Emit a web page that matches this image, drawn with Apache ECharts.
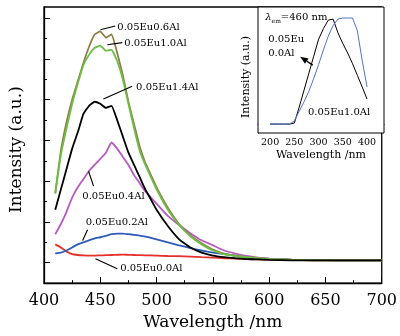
<!DOCTYPE html>
<html><head><meta charset="utf-8">
<script src="https://cdn.jsdelivr.net/npm/echarts@6/dist/echarts.min.js"></script>
<style>html,body{margin:0;padding:0;background:#fff}#c{width:400px;height:336px}</style>
</head><body><div id="c"></div>
<script>
// ---- main emission spectra, wavelength in nm ----
const wavelength = [410,415,420,425,430,435,440,445,450,455,460,465,470,475,480,485,490,495,500,510,520,530,540,550,560,570,580,590,600,620,640,660,680,700];
const eu00Al = [1.9,1.75,1.55,1.42,1.38,1.36,1.35,1.35,1.36,1.37,1.38,1.39,1.4,1.39,1.38,1.37,1.36,1.36,1.35,1.33,1.32,1.3,1.27,1.25,1.22,1.2,1.18,1.16,1.15,1.13,1.12,1.12,1.12,1.12];
const eu02Al = [1.46,1.5,1.6,1.75,1.9,2.0,2.1,2.2,2.25,2.32,2.4,2.43,2.43,2.4,2.37,2.33,2.28,2.22,2.15,2.0,1.85,1.72,1.6,1.5,1.42,1.35,1.28,1.23,1.2,1.15,1.13,1.12,1.12,1.12];
const eu04Al = [2.4,2.9,3.5,4.2,4.7,5.1,5.5,5.8,6.1,6.4,6.9,6.6,6.2,5.8,5.3,4.9,4.5,4.2,3.9,3.3,2.85,2.45,2.1,1.85,1.6,1.45,1.33,1.25,1.2,1.15,1.13,1.12,1.12,1.12];
const eu06Al = [4.4,6.5,7.9,9.0,9.9,10.8,11.6,12.2,12.35,12.05,12.2,11.3,10.2,8.9,7.8,6.7,5.9,5.3,4.7,3.7,2.9,2.35,1.95,1.65,1.45,1.35,1.28,1.22,1.18,1.14,1.12,1.12,1.12,1.12];
const eu10Al = [4.4,6.3,7.6,8.8,9.8,10.7,11.2,11.55,11.65,11.4,11.45,10.9,10.0,8.8,7.6,6.5,5.8,5.2,4.6,3.6,2.85,2.3,1.9,1.6,1.42,1.33,1.27,1.22,1.18,1.14,1.12,1.12,1.12,1.12];
const eu14Al = [3.6,4.6,5.6,6.6,7.4,8.3,8.7,8.9,8.8,8.6,8.7,8.0,7.2,6.4,5.8,5.2,4.6,4.1,3.6,2.8,2.15,1.75,1.5,1.35,1.27,1.22,1.18,1.16,1.14,1.12,1.12,1.12,1.12,1.12];
const seriesNames = ['0.05Eu0.0Al','0.05Eu0.2Al','0.05Eu0.4Al','0.05Eu0.6Al','0.05Eu1.0Al','0.05Eu1.4Al'];

// ---- inset excitation spectra (λem = 460 nm) ----
const insetWavelength = [200,210,220,230,240,250,260,270,280,290,300,310,320,330,340,350,360,370,380,390,400];
const insetEu00Al = [0,0,0,0,0,0.05,0.8,1.6,2.4,3.2,4.0,4.5,4.9,4.95,4.3,3.8,3.35,2.85,2.3,1.75,1.18];
const insetEu10Al = [0,0,0,0,0,0.15,0.6,1.05,1.55,2.15,2.8,3.5,4.15,4.65,4.95,5.0,5.0,5.0,4.4,3.0,1.75];

// ---- ticks ----
const mainXLabels = [400,450,500,550,600,650,700];
const mainYMajorTicks = [1,3,5,7,9,11,13];
const mainYMinorTicks = [2,4,6,8,10,12];
const insetXLabels = [200,250,300,350,400];
const insetXTicks = [200,225,250,275,300,325,350,375,400,425];
const insetYTicks = [0,1,2,3,4,5];

const FONT = '"DejaVu Serif", "Liberation Serif", serif';
const pair = (xs, ys) => xs.map((x, i) => [x, ys[i]]);

const mainSeriesData = {
  '0.05Eu0.0Al': eu00Al, '0.05Eu0.2Al': eu02Al, '0.05Eu0.4Al': eu04Al,
  '0.05Eu0.6Al': eu06Al, '0.05Eu1.0Al': eu10Al, '0.05Eu1.4Al': eu14Al
};
const mainColors = {
  '0.05Eu0.0Al': '#E5302A', '0.05Eu0.2Al': '#2F5CB8', '0.05Eu0.4Al': '#B85AC4',
  '0.05Eu0.6Al': '#8E7F45', '0.05Eu1.0Al': '#6CBF45', '0.05Eu1.4Al': '#000000'
};

const chart = echarts.init(document.getElementById('c'), null, {renderer: 'canvas'});

const series = seriesNames.map(n => ({
  name: n, type: 'line', xAxisIndex: 0, yAxisIndex: 0,
  data: pair(wavelength, mainSeriesData[n]),
  showSymbol: false, smooth: 0.12,
  lineStyle: {color: mainColors[n], width: 1.8},
  itemStyle: {color: mainColors[n]}, z: 3
}));
series.push({
  name: 'inset 0.05Eu0.0Al', type: 'line', xAxisIndex: 1, yAxisIndex: 2,
  data: pair(insetWavelength, insetEu00Al), showSymbol: false,
  lineStyle: {color: '#000', width: 1}, z: 6
});
series.push({
  name: 'inset 0.05Eu1.0Al', type: 'line', xAxisIndex: 1, yAxisIndex: 2,
  data: pair(insetWavelength, insetEu10Al), showSymbol: false,
  lineStyle: {color: '#4D73CC', width: 1}, z: 6
});

chart.setOption({
  animation: false,
  backgroundColor: '#fff',
  grid: [
    {left: 43, top: 7, right: 16, bottom: 50, show: true, borderColor: '#000', borderWidth: 1.3, z: 1},
    {left: 258, top: 7, right: 16, bottom: 203, show: true, borderColor: '#000', borderWidth: 1, backgroundColor: '#fff', z: 5}
  ],
  xAxis: [
    {
      gridIndex: 0, type: 'value', min: 400, max: 700, interval: 50,
      axisLine: {lineStyle: {color: '#000', width: 1.3}},
      axisTick: {inside: true, length: 6, lineStyle: {color: '#000', width: 1}},
      minorTick: {show: true, splitNumber: 2, length: 3, lineStyle: {color: '#000', width: 1}},
      splitLine: {show: false}, minorSplitLine: {show: false},
      axisLabel: {color: '#000', fontFamily: FONT, fontSize: 16, margin: 10, customValues: mainXLabels},
      name: 'Wavelength /nm', nameLocation: 'middle', nameGap: 18,
      nameTextStyle: {color: '#000', fontFamily: FONT, fontSize: 17, verticalAlign: 'top'}
    },
    {
      gridIndex: 1, type: 'value', min: 175, max: 435,
      axisLine: {lineStyle: {color: '#000', width: 1}},
      axisTick: {inside: true, length: 3, customValues: insetXTicks, lineStyle: {color: '#000', width: 1}},
      splitLine: {show: false},
      axisLabel: {color: '#000', fontFamily: FONT, fontSize: 9.5, margin: 5, customValues: insetXLabels},
      name: 'Wavelength /nm', nameLocation: 'middle', nameGap: 17,
      nameTextStyle: {color: '#000', fontFamily: FONT, fontSize: 11}
    }
  ],
  yAxis: [
    {
      gridIndex: 0, type: 'value', min: 0, max: 13.55,
      axisLine: {show: true, lineStyle: {color: '#000', width: 1.3}},
      axisTick: {inside: true, length: 6, customValues: mainYMajorTicks, lineStyle: {color: '#000', width: 1}},
      axisLabel: {show: false}, splitLine: {show: false},
      name: 'Intensity (a.u.)', nameLocation: 'middle', nameGap: 19,
      nameTextStyle: {color: '#000', fontFamily: FONT, fontSize: 17, padding: [0, 9, 0, 0]}
    },
    {
      gridIndex: 0, type: 'value', min: 0, max: 13.55, position: 'left',
      axisLine: {show: false},
      axisTick: {inside: true, length: 3, customValues: mainYMinorTicks, lineStyle: {color: '#000', width: 1}},
      axisLabel: {show: false}, splitLine: {show: false}
    },
    {
      gridIndex: 1, type: 'value', min: -0.42, max: 5.52,
      axisLine: {show: true, lineStyle: {color: '#000', width: 1}},
      axisTick: {inside: true, length: 3, customValues: insetYTicks, lineStyle: {color: '#000', width: 1}},
      axisLabel: {show: false}, splitLine: {show: false},
      name: 'Intensity (a.u.)', nameLocation: 'middle', nameGap: 6,
      nameTextStyle: {color: '#000', fontFamily: FONT, fontSize: 11, padding: [0, 14, 0, 0]}
    }
  ],
  series: series
});

// ---- annotations, anchored in data coordinates ----
const mainNotes = [
  {text: '0.05Eu0.6Al', from: [450.1, 12.43], to: [463.3, 12.62], at: [465.1, 12.57]},
  {text: '0.05Eu1.0Al', from: [456.3, 11.70], to: [469.5, 11.80], at: [471.3, 11.75]},
  {text: '0.05Eu1.4Al', from: [452.8, 9.03], to: [478.3, 9.66], at: [481.8, 9.61]},
  {text: '0.05Eu0.4Al', from: [439.6, 5.49], to: [444.0, 4.76], at: [434.0, 4.27]},
  {text: '0.05Eu0.2Al', from: [434.3, 2.09], to: [438.7, 2.62], at: [437.0, 2.96]},
  {text: '0.05Eu0.0Al', from: [445.7, 1.20], to: [465.1, 0.70], at: [467.7, 0.73]}
];
const g = [];
const P0 = v => chart.convertToPixel({xAxisIndex: 0, yAxisIndex: 0}, v);
const P1 = v => chart.convertToPixel({xAxisIndex: 1, yAxisIndex: 2}, v);
mainNotes.forEach(n => {
  const a = P0(n.from), b = P0(n.to), t = P0(n.at);
  g.push({type: 'line', shape: {x1: a[0], y1: a[1], x2: b[0], y2: b[1]}, style: {stroke: '#000', lineWidth: 1.1}, z: 20});
  g.push({type: 'text', style: {text: n.text, x: t[0], y: t[1], fill: '#000', font: '10px ' + FONT, align: 'left', verticalAlign: 'middle'}, z: 20});
});
// inset notes
const lam = P1([190, 5.05]);
g.push({type: 'text', z: 20, style: {
  text: '{i|λ}{s|em}=460 nm', x: lam[0], y: lam[1], align: 'left', verticalAlign: 'middle',
  fill: '#000', font: '10px ' + FONT, lineHeight: 14,
  rich: {i: {fontStyle: 'italic', fontSize: 10, fontFamily: FONT}, s: {fontSize: 6, fontFamily: FONT, verticalAlign: 'bottom'}}
}});
const e1 = P1([196, 3.68]);
g.push({type: 'text', z: 20, style: {text: '0.05Eu\n0.0Al', x: e1[0], y: e1[1], align: 'left', verticalAlign: 'middle', fill: '#000', font: '10px ' + FONT, lineHeight: 14}});
const e2 = P1([278, 0.57]);
g.push({type: 'text', z: 20, style: {text: '0.05Eu1.0Al', x: e2[0], y: e2[1], align: 'left', verticalAlign: 'middle', fill: '#000', font: '10px ' + FONT}});
// arrow
const aFrom = P1([288, 2.78]), aTo = P1([262, 3.18]);
const dx = aTo[0] - aFrom[0], dy = aTo[1] - aFrom[1], L = Math.hypot(dx, dy);
const ux = dx / L, uy = dy / L, hl = 8, hw = 3.2;
const bx = aTo[0] - ux * hl, by = aTo[1] - uy * hl;
g.push({type: 'line', z: 20, shape: {x1: aFrom[0], y1: aFrom[1], x2: bx, y2: by}, style: {stroke: '#000', lineWidth: 1.3}});
g.push({type: 'polygon', z: 20, shape: {points: [[aTo[0], aTo[1]], [bx - uy * hw, by + ux * hw], [bx + uy * hw, by - ux * hw]]}, style: {fill: '#000'}});

chart.setOption({graphic: g});
</script>
</body></html>
